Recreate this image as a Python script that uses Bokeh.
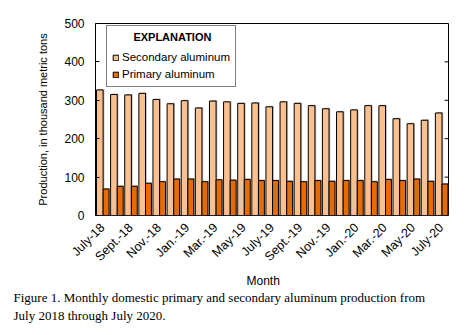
import math
from bokeh.plotting import figure
from bokeh.models import (ColumnDataSource, Range1d, FixedTicker,
                          Legend, LegendItem, Title)
from bokeh.transform import dodge
from bokeh.embed import file_html
from bokeh.resources import INLINE

months = ["July-18", "Aug.-18", "Sept.-18", "Oct.-18", "Nov.-18", "Dec.-18",
          "Jan.-19", "Feb.-19", "Mar.-19", "Apr.-19", "May-19", "June-19",
          "July-19", "Aug.-19", "Sept.-19", "Oct.-19", "Nov.-19", "Dec.-19",
          "Jan.-20", "Feb.-20", "Mar.-20", "Apr.-20", "May-20", "June-20", "July-20"]
secondary = [327, 315, 314, 318, 302, 291, 299, 280, 298, 296, 292, 293, 283,
             296, 292, 286, 278, 270, 275, 286, 286, 252, 239, 248, 267]
primary = [69, 76, 76, 84, 88, 95, 95, 88, 93, 92, 94, 91, 91,
           89, 88, 91, 89, 91, 91, 88, 94, 91, 95, 89, 82]
y_ticks = [0, 100, 200, 300, 400, 500]

FONT = "Liberation Sans"
SERIF = "Liberation Serif"
SEC_COLOR = "#FAC090"
PRI_COLOR = "#E36C09"

xs = list(range(len(months)))
shadow_up = 2.5
src = ColumnDataSource(dict(
    x=xs, sec=secondary, pri=primary,
    sec_sh=[v + shadow_up for v in secondary],
    pri_sh=[v + shadow_up for v in primary],
))

x_range = Range1d(-0.5, len(months) - 0.5)
y_range = Range1d(0, 500)
p = figure(width=469, height=335, output_backend="svg", toolbar_location=None,
           x_range=x_range, y_range=y_range,
           min_border_left=95, min_border_right=21, min_border_top=23,
           min_border_bottom=0)
p.background_fill_color = "white"
p.border_fill_color = "white"
p.outline_line_color = "black"
p.outline_line_width = 1
p.xgrid.visible = False
p.ygrid.visible = False

sec_w, pri_w = 0.47, 0.42
sec_off, pri_off = -0.195, 0.25
sh = 0.09
p.vbar(x=dodge("x", sec_off + sh, range=p.x_range), top="sec_sh", width=sec_w,
       source=src, fill_color="#808080", fill_alpha=0.55, line_color=None)
r_sec = p.vbar(x=dodge("x", sec_off, range=p.x_range), top="sec", width=sec_w,
               source=src, fill_color=SEC_COLOR, line_color="black", line_width=1)
p.vbar(x=dodge("x", pri_off + sh, range=p.x_range), top="pri_sh", width=pri_w,
       source=src, fill_color="#808080", fill_alpha=0.55, line_color=None)
r_pri = p.vbar(x=dodge("x", pri_off, range=p.x_range), top="pri", width=pri_w,
               source=src, fill_color=PRI_COLOR, line_color="black", line_width=1)

# inward ticks on the right frame edge
tick_len = 0.28
inner_ticks = y_ticks[1:-1]
p.segment(x0=[x_range.end] * len(inner_ticks), x1=[x_range.end - tick_len] * len(inner_ticks),
          y0=inner_ticks, y1=inner_ticks, line_color="black", line_width=1)

# x axis
xa = p.xaxis[0]
xa.ticker = FixedTicker(ticks=xs[::2])
xa.major_label_overrides = {i: months[i] for i in xs[::2]}
xa.major_label_orientation = math.pi / 4
xa.major_tick_line_color = None
xa.major_tick_out = 0
xa.major_tick_in = 0
xa.minor_tick_line_color = None
xa.axis_line_color = None
xa.major_label_standoff = 10
xa.major_label_text_font = FONT
xa.major_label_text_font_size = "12.5px"
xa.major_label_text_color = "black"

# y axis
ya = p.yaxis[0]
ya.ticker = FixedTicker(ticks=y_ticks)
ya.major_tick_in = 4
ya.major_tick_out = 0
ya.minor_tick_line_color = None
ya.axis_line_color = None
ya.major_tick_line_color = "black"
ya.major_label_standoff = 11
ya.major_label_text_font = FONT
ya.major_label_text_font_size = "12px"
ya.major_label_text_color = "black"
ya.axis_label = "Production, in thousand metric tons"
ya.axis_label_text_font = FONT
ya.axis_label_text_font_size = "11px"
ya.axis_label_text_font_style = "normal"
ya.axis_label_text_color = "black"
ya.axis_label_standoff = 12

legend = Legend(items=[LegendItem(label="Secondary aluminum", renderers=[r_sec]),
                       LegendItem(label="Primary aluminum", renderers=[r_pri])],
                location=(11, 128), title="\u00a0" * 7 + "EXPLANATION",
                title_text_font=FONT, title_text_font_size="11px",
                title_text_font_style="bold", title_text_color="black",
                title_standoff=7,
                label_text_font=FONT, label_text_font_size="11.5px",
                label_text_color="black",
                glyph_width=7, glyph_height=7, label_standoff=3, label_height=14,
                spacing=3, padding=5, margin=0,
                border_line_color="black", border_line_width=1,
                background_fill_color="white", background_fill_alpha=1)
p.add_layout(legend)

month_title = Title(text="Month", align="left", offset=151, text_font=FONT,
                    text_font_size="12px", text_font_style="normal",
                    text_color="black", standoff=0, text_line_height=0.8)
cap1 = Title(text="Figure 1. Monthly domestic primary and secondary aluminum production from",
             align="left", offset=-82, text_font=SERIF,
             text_font_size="13px", text_font_style="normal", text_color="black",
             standoff=0)
cap2 = Title(text="July 2018 through July 2020.",
             align="left", offset=-82, text_font=SERIF,
             text_font_size="13px", text_font_style="normal", text_color="black",
             standoff=3)
spacer = Title(text="\u00a0", align="left", offset=0, text_font=SERIF,
               text_font_size="8px", standoff=0)
p.add_layout(month_title, "below")
p.add_layout(cap1, "below")
p.add_layout(cap2, "below")
p.add_layout(spacer, "below")

open("out.html", "w").write(file_html(p, INLINE))
